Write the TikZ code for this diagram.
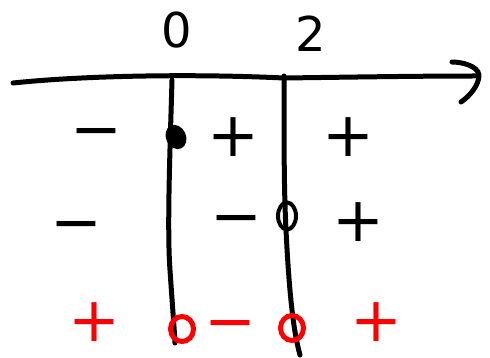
\documentclass[tikz,border=0pt]{standalone}
\usepackage{fontspec}
\usetikzlibrary{shapes.geometric}
\setmainfont{DejaVu Sans}
\definecolor{pen}{RGB}{0,0,0}
\definecolor{redpen}{RGB}{255,0,0}
\begin{document}
\begin{tikzpicture}[x=1pt,y=-1pt,
  stroke/.style={line width=5pt,line cap=round,line join=round,draw=pen},
  digittxt/.style={inner sep=0pt,font=\fontsize{48}{48}\selectfont,text=pen},
  signtxt/.style={inner sep=0pt,font=\fontsize{62}{62}\selectfont,text=pen,text height=33pt,text depth=0pt},
  redsign/.style={signtxt,text=redpen},
  fulldot/.style={ellipse,fill=pen,inner sep=0pt,minimum width=20pt,minimum height=25pt,rotate=25},
  opendot/.style={ellipse,draw=pen,line width=4pt,inner sep=0pt,minimum width=18pt,minimum height=27pt},
  reddot/.style={ellipse,draw=redpen,line width=5pt,inner sep=0pt,minimum width=23pt,minimum height=25pt}]
\useasboundingbox (0,0) rectangle (490,358);
% axis
\coordinate (axL) at (13,83);
\coordinate (axR) at (476,76);
\draw[stroke] (axL) .. controls (90,75) and (200,74) .. (284,78) .. controls (360,77) and (420,76) .. (axR);
\coordinate (ahT) at (452,62);
\coordinate (ahB) at (461,102);
\draw[stroke] (ahT) .. controls (462,62) and (478,66) .. (479,75) .. controls (479,85) and (470,96) .. (ahB);
% vertical lines
\coordinate (v1t) at (172,80);
\coordinate (v1b) at (175,343);
\coordinate (v2t) at (284,76);
\coordinate (v2b) at (300,355);
\draw[stroke] (v1t) .. controls (170,150) and (167,230) .. (170,270) .. controls (172,300) and (174,325) .. (v1b);
\draw[stroke] (v2t) .. controls (284,150) and (284,190) .. (286,230) .. controls (289,290) and (293,330) .. (v2b);
% labels
\node[digittxt] (z0) at (177,30) {0};
\node[digittxt] (z2) at (311,34) {2};
% row 1
\node[signtxt] (r1a) at (96,134) {−};
\node[fulldot] (d1) at (176,137) {};
\node[signtxt] (r1b) at (233,140) {+};
\node[signtxt] (r1c) at (348,140) {+};
% row 2
\node[signtxt] (r2a) at (76,227) {−};
\node[signtxt] (r2b) at (236,221) {−};
\node[opendot] (d2) at (287,216) {};
\node[signtxt] (r2c) at (358,225) {+};
% row 3 (red)
\node[redsign] (r3a) at (94,325) {+};
\node[reddot] (d3) at (182,329) {};
\node[redsign] (r3b) at (230,326) {−};
\node[reddot] (d4) at (292,328) {};
\node[redsign] (r3c) at (376,325) {+};
\end{tikzpicture}
\end{document}
